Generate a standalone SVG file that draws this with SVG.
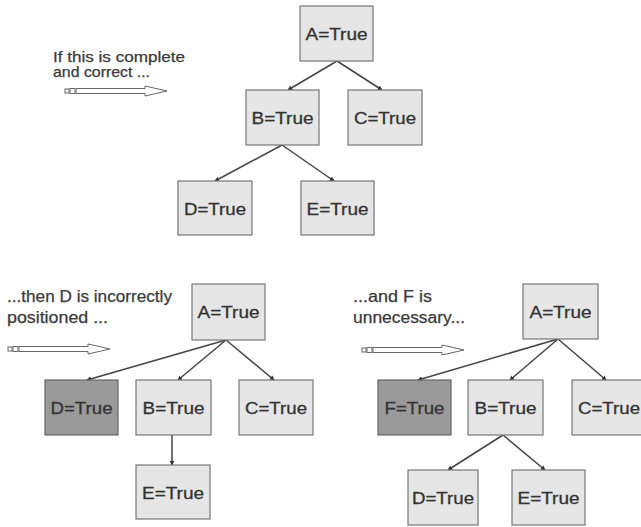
<svg xmlns="http://www.w3.org/2000/svg" width="641" height="527" viewBox="0 0 641 527">
<style>
.n rect{fill:#e6e6e6;stroke:#777;stroke-width:1.2}
.n.dk rect{fill:#9a9a9a;stroke:#666}
.n text{font-family:"Liberation Sans",Arial,sans-serif;font-size:17px;fill:#333;stroke:#333;stroke-width:0.3;text-anchor:middle}
.lbl{font-family:"Liberation Sans",Arial,sans-serif;fill:#3a3a3a;stroke:#3a3a3a;stroke-width:0.25}
.s1{font-size:14px}
.s2{font-size:16px}
#edges line{stroke:#444;stroke-width:1.5;marker-end:url(#dot)}
.blk{fill:#fff;stroke:#666;stroke-width:1}
</style>
<defs>
<marker id="dot" viewBox="0 0 6 6" refX="5" refY="3" markerWidth="5" markerHeight="5" orient="auto" markerUnits="userSpaceOnUse">
<path d="M0,0 L6,3 L0,6 z" fill="#333"/>
</marker>
<g id="bigarrow">
<rect x="0" y="-2" width="4" height="4" class="blk"/>
<rect x="5" y="-2.5" width="5" height="5" class="blk"/>
<path d="M11,-2.5 H80 V-5 L102,0 L80,5 V2.5 H11 z" class="blk"/>
</g>
</defs>
<rect width="641" height="527" fill="#fff"/>
<g id="edges">
<line x1="337" y1="61" x2="288" y2="90"/>
<line x1="337" y1="61" x2="382" y2="90"/>
<line x1="282" y1="145" x2="215" y2="181"/>
<line x1="282" y1="145" x2="334" y2="181"/>
<line x1="226" y1="340" x2="87" y2="380"/>
<line x1="226" y1="340" x2="178" y2="380"/>
<line x1="226" y1="340" x2="274" y2="380"/>
<line x1="172" y1="435" x2="172" y2="465"/>
<line x1="558" y1="339" x2="418" y2="380"/>
<line x1="558" y1="339" x2="510" y2="380"/>
<line x1="558" y1="339" x2="606" y2="380"/>
<line x1="503" y1="435" x2="448" y2="470"/>
<line x1="503" y1="435" x2="545" y2="470"/>
</g>
<g id="t1-A" class="n"><rect x="300" y="6" width="73" height="55"/><text x="336.5" y="40" textLength="62" lengthAdjust="spacingAndGlyphs">A=True</text></g>
<g id="t1-B" class="n"><rect x="246" y="90" width="73" height="55"/><text x="282.5" y="124" textLength="62" lengthAdjust="spacingAndGlyphs">B=True</text></g>
<g id="t1-C" class="n"><rect x="348" y="90" width="74" height="55"/><text x="385" y="124" textLength="62" lengthAdjust="spacingAndGlyphs">C=True</text></g>
<g id="t1-D" class="n"><rect x="178" y="181" width="74" height="54"/><text x="215" y="215" textLength="62" lengthAdjust="spacingAndGlyphs">D=True</text></g>
<g id="t1-E" class="n"><rect x="301" y="181" width="73" height="54"/><text x="337.5" y="215" textLength="62" lengthAdjust="spacingAndGlyphs">E=True</text></g>
<g id="t2-A" class="n"><rect x="192" y="284" width="73" height="56"/><text x="228.5" y="318" textLength="62" lengthAdjust="spacingAndGlyphs">A=True</text></g>
<g id="t2-D" class="n dk"><rect x="45" y="380" width="73" height="55"/><text x="81.5" y="414" textLength="62" lengthAdjust="spacingAndGlyphs">D=True</text></g>
<g id="t2-B" class="n"><rect x="136" y="380" width="75" height="55"/><text x="173.5" y="414" textLength="62" lengthAdjust="spacingAndGlyphs">B=True</text></g>
<g id="t2-C" class="n"><rect x="239" y="380" width="74" height="55"/><text x="276" y="414" textLength="62" lengthAdjust="spacingAndGlyphs">C=True</text></g>
<g id="t2-E" class="n"><rect x="136" y="465" width="74" height="54"/><text x="173" y="499" textLength="62" lengthAdjust="spacingAndGlyphs">E=True</text></g>
<g id="t3-A" class="n"><rect x="523" y="284" width="75" height="55"/><text x="560.5" y="318" textLength="62" lengthAdjust="spacingAndGlyphs">A=True</text></g>
<g id="t3-F" class="n dk"><rect x="378" y="380" width="73" height="55"/><text x="414.5" y="414" textLength="60" lengthAdjust="spacingAndGlyphs">F=True</text></g>
<g id="t3-B" class="n"><rect x="468" y="380" width="75" height="55"/><text x="505.5" y="414" textLength="62" lengthAdjust="spacingAndGlyphs">B=True</text></g>
<g id="t3-C" class="n"><rect x="572" y="380" width="74" height="55"/><text x="609" y="414" textLength="62" lengthAdjust="spacingAndGlyphs">C=True</text></g>
<g id="t3-D" class="n"><rect x="408" y="470" width="70" height="55"/><text x="443" y="504" textLength="62" lengthAdjust="spacingAndGlyphs">D=True</text></g>
<g id="t3-E" class="n"><rect x="512" y="470" width="73" height="55"/><text x="548.5" y="504" textLength="62" lengthAdjust="spacingAndGlyphs">E=True</text></g>
<g id="note1">
<text class="lbl s1" x="53" y="62" textLength="132" lengthAdjust="spacingAndGlyphs">If this is complete</text>
<text class="lbl s1" x="53" y="77" textLength="97" lengthAdjust="spacingAndGlyphs">and correct ...</text>
<use href="#bigarrow" x="65" y="91"/>
</g>
<g id="note2">
<text class="lbl s2" x="7" y="302" textLength="165" lengthAdjust="spacingAndGlyphs">...then D is incorrectly</text>
<text class="lbl s2" x="7" y="323" textLength="101" lengthAdjust="spacingAndGlyphs">positioned  ...</text>
<use href="#bigarrow" x="8" y="349"/>
</g>
<g id="note3">
<text class="lbl s2" x="353" y="302" textLength="79" lengthAdjust="spacingAndGlyphs">...and F is</text>
<text class="lbl s2" x="353" y="323" textLength="112" lengthAdjust="spacingAndGlyphs">unnecessary...</text>
<use href="#bigarrow" x="362" y="350"/>
</g>
</svg>
